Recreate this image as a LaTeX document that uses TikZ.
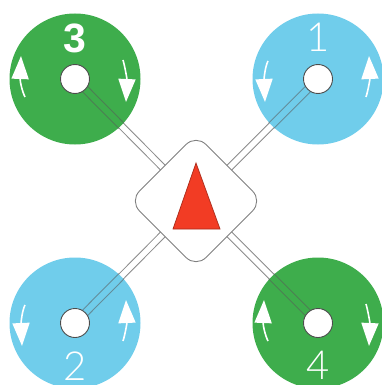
\documentclass[tikz,border=0pt]{standalone}
\usepackage{fontspec}
\setsansfont{Lato Light}
\newfontfamily\boldlabel{Liberation Sans}
\usepackage{tikz}
\usetikzlibrary{calc}
\usetikzlibrary{arrows.meta}
\definecolor{rotorgreen}{RGB}{62,173,76}
\definecolor{rotorblue}{RGB}{112,205,235}
\definecolor{bodyred}{RGB}{242,60,36}
\tikzset{
    rotordisc/.style={
        circle,
        inner sep=0pt,
        minimum size=131pt
    },
    rotorpin/.style={
        circle,
        draw=black!70,
        line width=0.9pt,
        fill=white,
        inner sep=0pt,
        minimum size=29pt
    },
    armtube/.style={
        draw=black!45,
        line width=1pt,
        double=white,
        double distance=5.5pt
    },
    armedge/.style={
        black!65,
        opacity=0.55,
        line width=0.9pt
    },
    bodyplate/.style={
        draw=black!50,
        line width=0.9pt,
        fill=white,
        rectangle,
        rotate=45,
        rounded corners=14pt,
        inner sep=0pt,
        minimum size=94pt
    },
    spinarrow/.style={
        white,
        line width=1.6pt,
        -{Triangle[length=23pt, width=17pt]}
    },
    rotorlabel/.style={
        white,
        inner sep=0pt
    }
}

\begin{document}
\begin{tikzpicture}[x=1pt,y=-1pt]
   \useasboundingbox (0,0) rectangle (382,385);
   \clip (0,0) rectangle (382,385);
   \coordinate (mid) at (196,201);
   \coordinate (pos3) at (75,79);
   \coordinate (pos1) at (318,79);
   \coordinate (pos2) at (75,323);
   \coordinate (pos4) at (318,323);
   % arms go under the discs
   \foreach \n in {1,2,3,4}{
     \draw[armtube] (pos\n) -- (mid);
   }
   \foreach \n/\col/\ldy/\lfont/\lsize in {3/rotorgreen/-41/\boldlabel\bfseries/41,1/rotorblue/-42/\sffamily/40,2/rotorblue/43/\sffamily/40,4/rotorgreen/42/\sffamily/40}{
     \node[rotordisc,fill=\col] (rotor\n) at (pos\n) {};
     \coordinate (rim\n) at ($(pos\n)!66pt!(mid)$);
     \draw[armedge] ($(pos\n)!3.7pt!90:(mid)$) -- ($(rim\n)!3.7pt!90:(mid)$);
     \draw[armedge] ($(pos\n)!3.7pt!-90:(mid)$) -- ($(rim\n)!3.7pt!-90:(mid)$);
     \node[rotorpin] (pin\n) at (pos\n) {};
     \node[rotorlabel,font=\lfont\fontsize{\lsize}{\lsize}\selectfont] (label\n) at ($(pos\n)+(0,\ldy)$) {\n};
   }
   % spin direction, green and blue run opposite ways
   \foreach \n in {3,4}{
     \draw[spinarrow] ($(pos\n)+(-50,18)$) .. controls ($(pos\n)+(-53,12)$) and ($(pos\n)+(-55,2)$) .. ($(pos\n)+(-54,-23)$);
     \draw[spinarrow] ($(pos\n)+(48,-19)$) .. controls ($(pos\n)+(50,-12)$) and ($(pos\n)+(52,0)$) .. ($(pos\n)+(51,23)$);
   }
   \foreach \n in {1,2}{
     \draw[spinarrow] ($(pos\n)+(-50,-18)$) .. controls ($(pos\n)+(-53,-12)$) and ($(pos\n)+(-54,0)$) .. ($(pos\n)+(-53,23)$);
     \draw[spinarrow] ($(pos\n)+(48,18)$) .. controls ($(pos\n)+(50,12)$) and ($(pos\n)+(52,0)$) .. ($(pos\n)+(51,-23)$);
   }
   \node[bodyplate] (body) at (mid) {};
   \draw[fill=bodyred,draw=bodyred!70!black,line width=0.7pt] (196,163) -- (220,229) -- (173,229) -- cycle;
\end{tikzpicture}
\end{document}
